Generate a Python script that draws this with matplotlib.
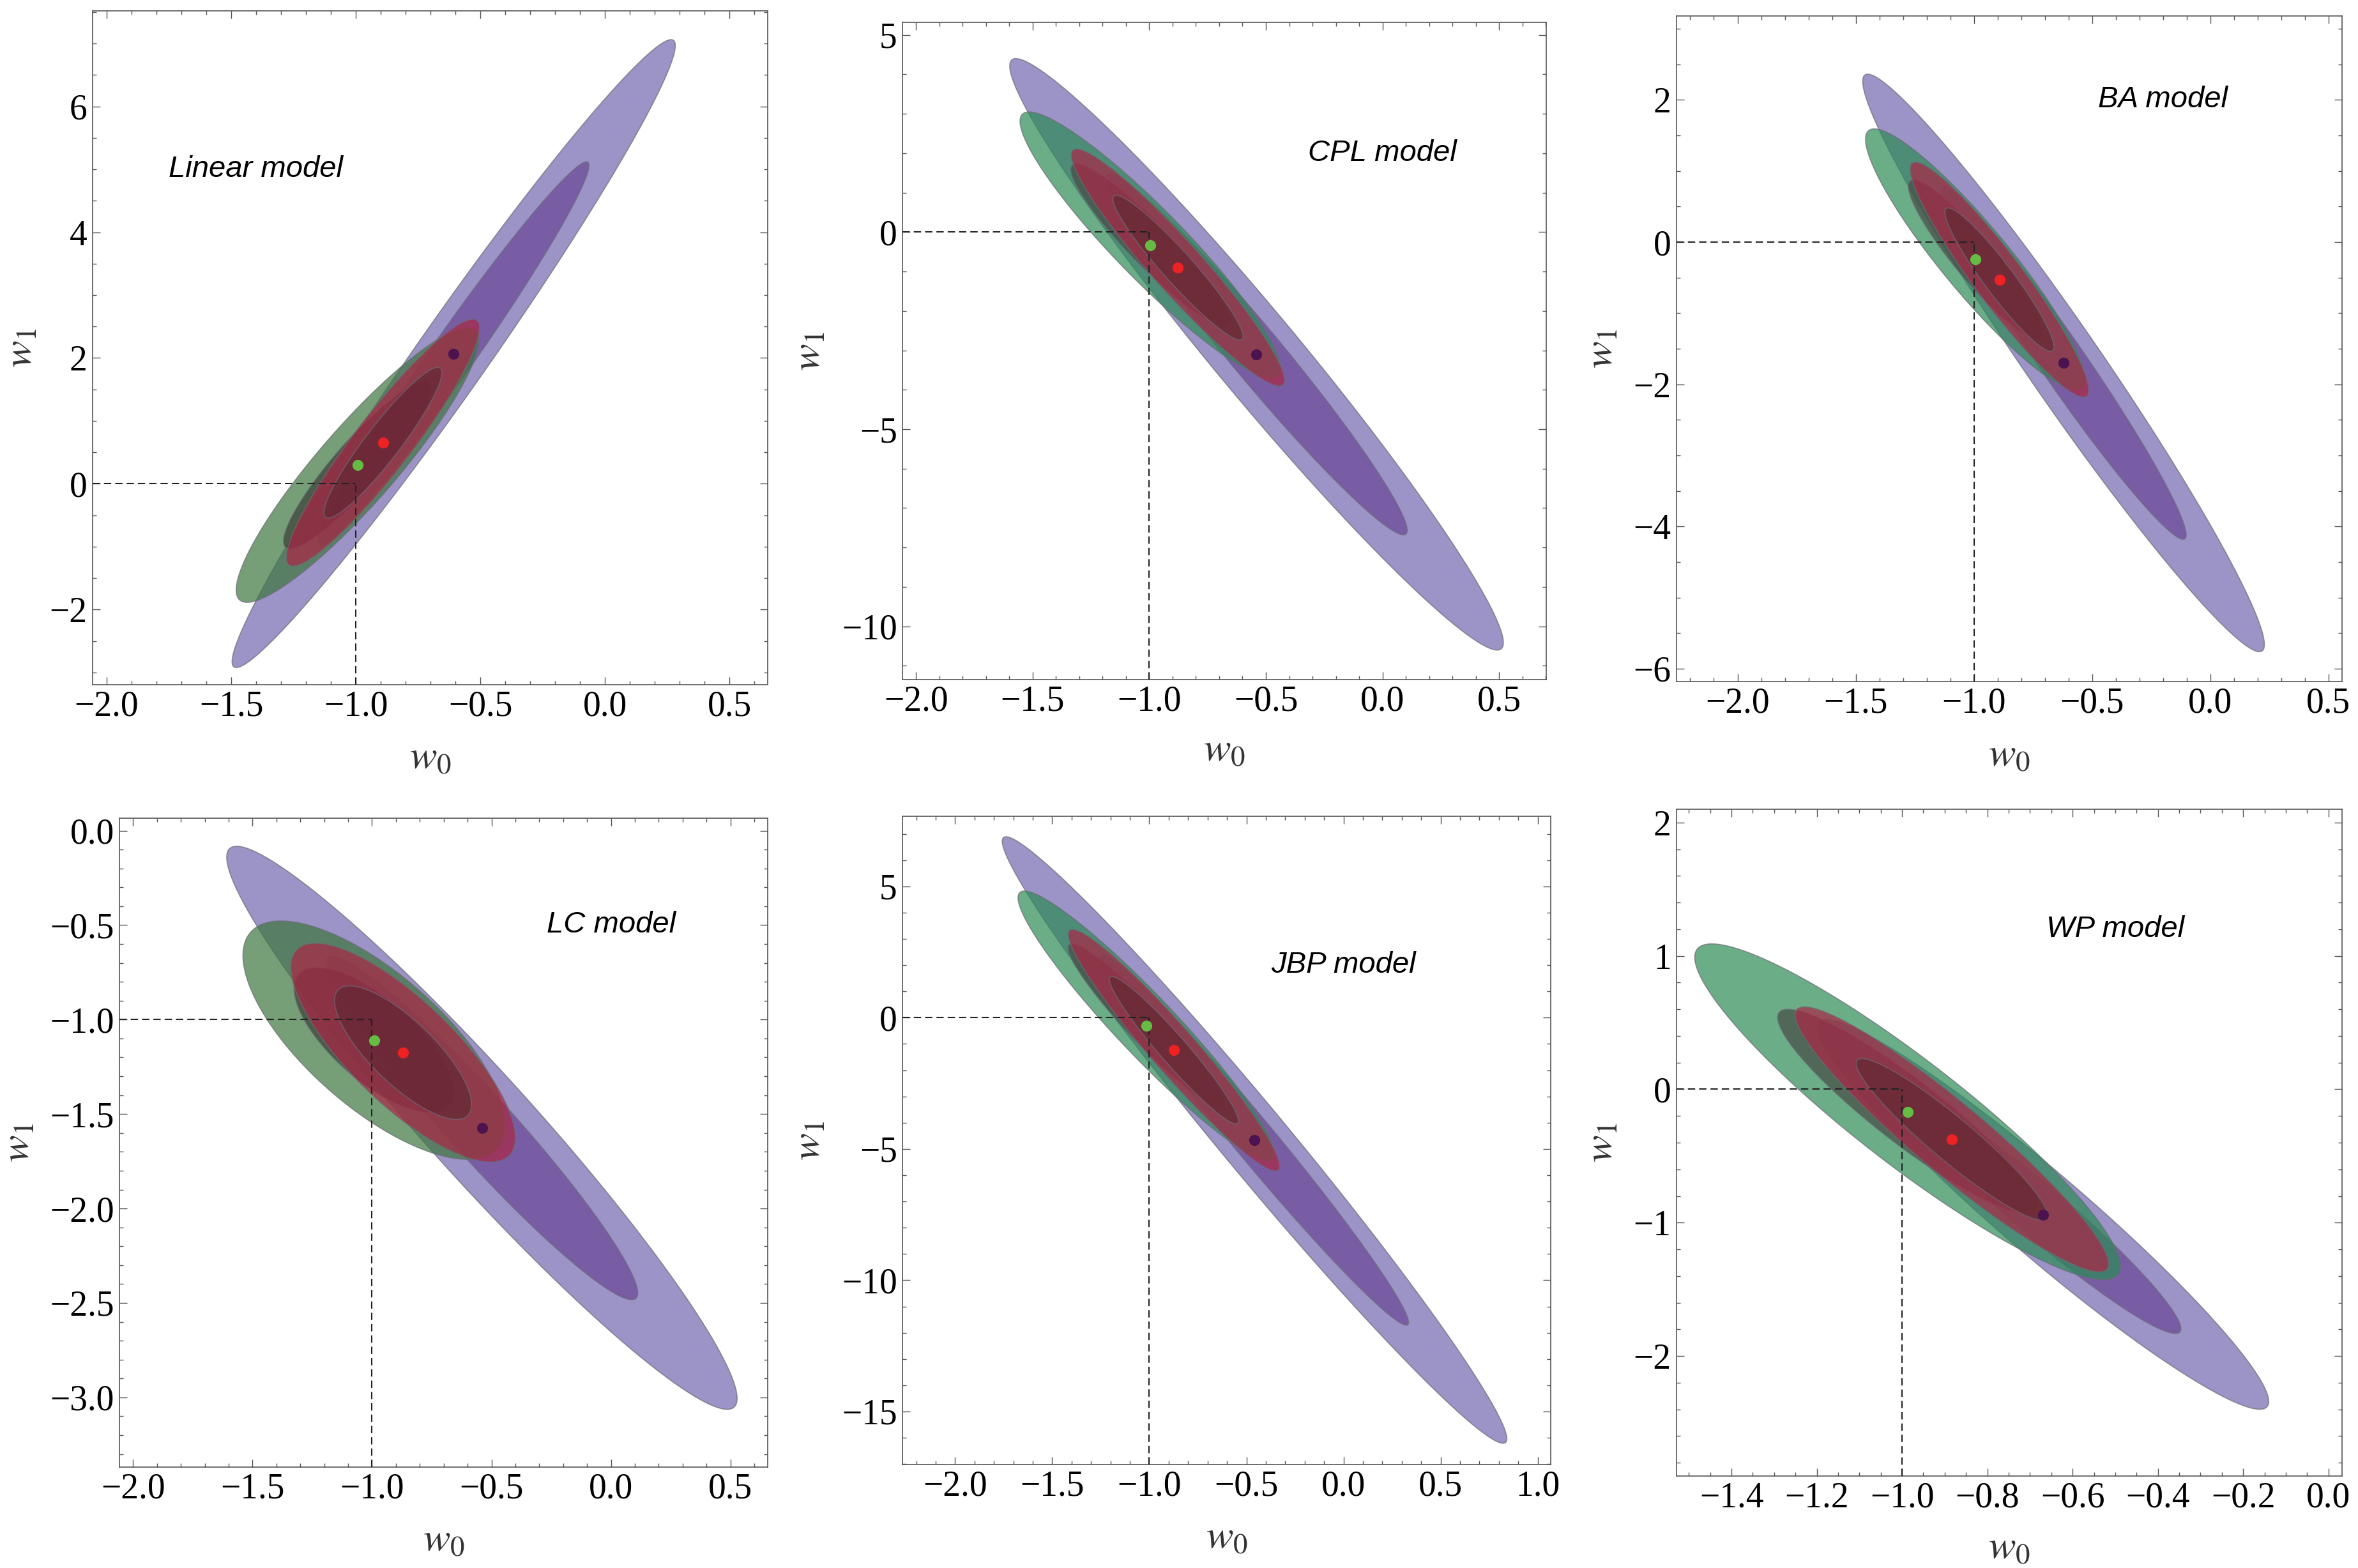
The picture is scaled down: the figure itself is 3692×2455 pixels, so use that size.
import numpy as np
import matplotlib.pyplot as plt
from matplotlib.ticker import MultipleLocator, FuncFormatter

plt.rcParams['font.family'] = ['Liberation Serif', 'DejaVu Serif']
plt.rcParams['mathtext.fontset'] = 'stix'

models = ['Linear model', 'CPL model', 'BA model', 'LC model', 'JBP model', 'WP model']

# best fit (w0, w1) and Fisher errors / correlation for the three data sets
purple_w0 = [-0.607, -0.540, -0.621, -0.540, -0.458, -0.669]
purple_w1 = [2.07, -3.10, -1.70, -1.573, -4.66, -0.939]
purple_s0 = [0.358, 0.426, 0.342, 0.430, 0.523, 0.213]
purple_s1 = [2.01, 3.02, 1.635, 0.600, 4.65, 0.588]
purple_rho = [0.981, -0.975, -0.975, -0.961, -0.985, -0.96]

green_w0 = [-0.993, -0.995, -0.994, -0.991, -1.015, -0.987]
green_w1 = [0.30, -0.33, -0.246, -1.109, -0.32, -0.169]
green_s0 = [0.196, 0.225, 0.187, 0.221, 0.266, 0.201]
green_s1 = [0.88, 1.36, 0.74, 0.254, 2.07, 0.507]
green_rho = [0.91, -0.93, -0.92, -0.71, -0.95, -0.92]

red_w0 = [-0.891, -0.877, -0.892, -0.870, -0.873, -0.883]
red_w1 = [0.653, -0.90, -0.528, -1.175, -1.24, -0.376]
red_s0 = [0.156, 0.184, 0.152, 0.189, 0.219, 0.148]
red_s1 = [0.79, 1.21, 0.665, 0.233, 1.85, 0.40]
red_rho = [0.93, -0.95, -0.94, -0.78, -0.96, -0.94]

# delta chi^2 for 2 sigma and 1 sigma (2 parameters)
dchi2 = [6.17, 2.30]

# reference LCDM point
ref_w0 = -1.0
ref_w1 = [0, 0, 0, -1, 0, 0]

# text position of model names
label_w0 = [-1.40, 0.0, -0.2, 0.0, 0.0, -0.5]
label_w1 = [5.0, 2.0, 2.0, -0.5, 2.0, 1.2]

xlims = [(-2.056, 0.653), (-2.058, 0.702), (-2.258, 0.557),
         (-2.057, 0.656), (-2.271, 1.067), (-1.529, 0.032)]
ylims = [(-3.195, 7.52), (-11.35, 5.32), (-6.18, 3.18),
         (-3.369, 0.066), (-17.02, 7.67), (-2.90, 2.10)]
xmajor = [0.5, 0.5, 0.5, 0.5, 0.5, 0.2]
xminor = [0.1, 0.1, 0.1, 0.1, 0.1, 0.05]
ymajor = [2, 5, 2, 0.5, 5, 1]
yminor = [0.5, 1, 0.5, 0.1, 1, 0.2]
yfmt = ['%d', '%d', '%d', '%.1f', '%d', '%d']

# axes boxes in pixels (left, top, right, bottom) of a 3692x2455 canvas
boxes = [(145, 17, 1202, 1072), (1413, 35, 2421, 1064), (2625, 25, 3667, 1067),
         (187, 1281, 1202, 2297), (1413, 1278, 2428, 2293), (2625, 1267, 3667, 2311)]
xlab_y = [-0.110, -0.109, -0.112, -0.114, -0.114, -0.109]
ylab_x = [-0.104, -0.143, -0.111, -0.154, -0.142, -0.111]

a = 0.7
purple_col = [(114/255, 101/255, 174/255, a), (105/255, 70/255, 152/255, a)]
teal = [(44/255, 138/255, 85/255, a), (70/255, 75/255, 70/255, a)]
olive = [(61/255, 118/255, 61/255, a), (55/255, 63/255, 55/255, a)]
green_col = [olive, teal, teal, olive, teal, teal]
red_col = [(171/255, 38/255, 69/255, a), (98/255, 39/255, 50/255, a)]
edge = (0.42, 0.42, 0.46, 0.7)
frame = '#555555'


def fmt(f):
    return FuncFormatter(lambda v, p: (f % v).replace('-', '\u2212'))


def contour(ax, x0, y0, s0, s1, rho, k, color, z):
    t = np.linspace(0, 2 * np.pi, 500)
    r = np.sqrt(k)
    x = x0 + r * s0 * np.cos(t)
    y = y0 + r * s1 * (rho * np.cos(t) + np.sqrt(1 - rho ** 2) * np.sin(t))
    ax.fill(x, y, facecolor=color, edgecolor=edge, lw=0.6, zorder=z)


W, H = 3692, 2455
fig = plt.figure(figsize=(W / 200, H / 200), dpi=200)

for i in range(6):
    l, t, r, b = boxes[i]
    ax = fig.add_axes([l / W, 1 - b / H, (r - l) / W, (b - t) / H])

    sets = [(purple_w0, purple_w1, purple_s0, purple_s1, purple_rho, purple_col),
            (green_w0, green_w1, green_s0, green_s1, green_rho, green_col[i]),
            (red_w0, red_w1, red_s0, red_s1, red_rho, red_col)]
    z = 1
    for w0, w1, s0, s1, rho, cols in sets:
        for j, k in enumerate(dchi2):
            contour(ax, w0[i], w1[i], s0[i], s1[i], rho[i], k, cols[j], z)
            z += 1

    x0, x1 = xlims[i]
    y0, y1 = ylims[i]
    ax.plot([x0, ref_w0], [ref_w1[i], ref_w1[i]], ls=(0, (5.5, 3)), color='#222222', lw=0.75, zorder=10)
    ax.plot([ref_w0, ref_w0], [y0, ref_w1[i]], ls=(0, (5.5, 3)), color='#222222', lw=0.75, zorder=10)

    ax.plot(purple_w0[i], purple_w1[i], 'o', ms=6.2, color='#4b1450', mec='none', zorder=11)
    ax.plot(red_w0[i], red_w1[i], 'o', ms=6.2, color='#ee2222', mec='none', zorder=11)
    ax.plot(green_w0[i], green_w1[i], 'o', ms=6.2, color='#66bb44', mec='none', zorder=11)

    ax.text(label_w0[i], label_w1[i], models[i], family='Liberation Sans', style='italic',
            fontsize=17, ha='center', va='center', zorder=12)

    ax.set_xlim(x0, x1)
    ax.set_ylim(y0, y1)
    ax.xaxis.set_major_locator(MultipleLocator(xmajor[i]))
    ax.xaxis.set_minor_locator(MultipleLocator(xminor[i]))
    ax.yaxis.set_major_locator(MultipleLocator(ymajor[i]))
    ax.yaxis.set_minor_locator(MultipleLocator(yminor[i]))
    ax.xaxis.set_major_formatter(fmt('%.1f'))
    ax.yaxis.set_major_formatter(fmt(yfmt[i]))
    ax.tick_params(which='both', direction='in', top=True, right=True, color=frame, width=0.5)
    ax.tick_params(which='major', length=4.3, labelsize=20, pad=3)
    ax.tick_params(which='minor', length=2.2)
    for s in ax.spines.values():
        s.set_color(frame)
        s.set_linewidth(0.6)

    ax.set_xlabel(r'$w_0$', fontsize=23, color='#333333', va='center')
    ax.set_ylabel(r'$w_1$', fontsize=23, color='#333333', va='center')
    ax.xaxis.set_label_coords(0.5, xlab_y[i])
    ax.yaxis.set_label_coords(ylab_x[i], 0.5)

fig.savefig('out.png', dpi=200)
